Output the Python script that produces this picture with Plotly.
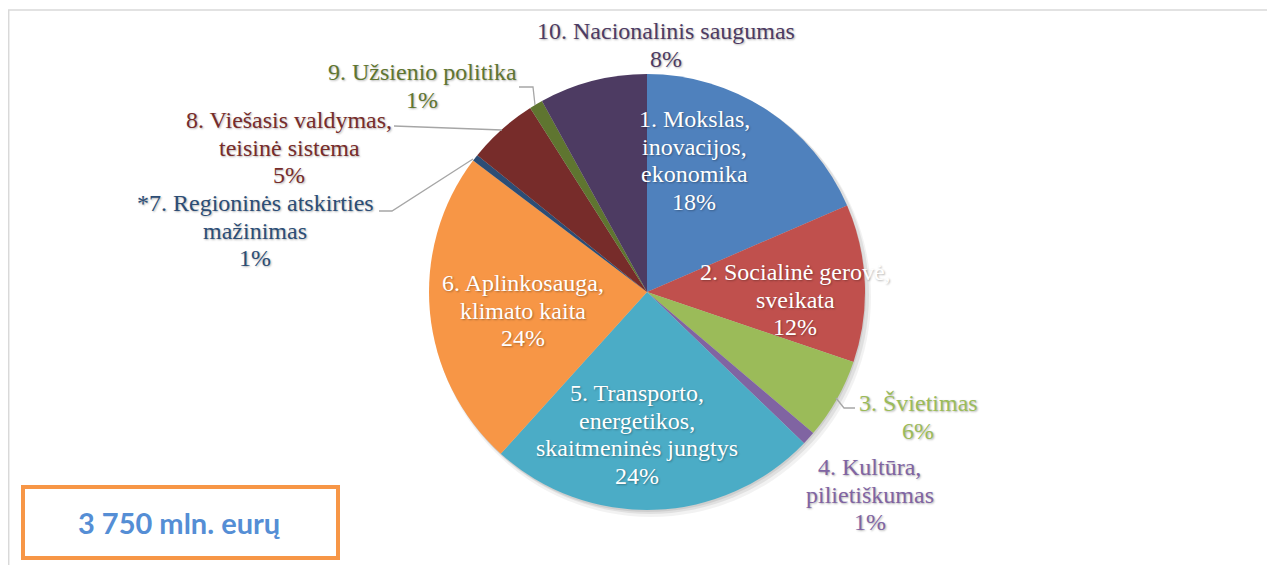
import plotly.graph_objects as go

W, H = 1275, 565
OFF = 8  # page body margin

# slices, clockwise from 12 o'clock
categories = ["1. Mokslas,<br>inovacijos,<br>ekonomika",
              "2. Socialinė gerovė,<br>sveikata",
              "3. Švietimas",
              "4. Kultūra,<br>pilietiškumas",
              "5. Transporto,<br>energetikos,<br>skaitmeninės jungtys",
              "6. Aplinkosauga,<br>klimato kaita",
              "*7. Regioninės atskirties<br>mažinimas",
              "8. Viešasis valdymas,<br>teisinė sistema",
              "9. Užsienio politika",
              "10. Nacionalinis saugumas"]
shares = [18.5, 11.7, 6.0, 1.0, 24.5, 23.6, 0.5, 5.2, 1.0, 8.0]
pct_labels = ["18%", "12%", "6%", "1%", "24%", "24%", "1%", "5%", "1%", "8%"]
total_label = "3 750 mln. eurų"

slice_colors = ["#4F81BD", "#C0504D", "#9BBB59", "#8064A2", "#4BACC6",
                "#F79646", "#2C4D75", "#772C2A", "#5F7530", "#4D3B62"]
text_colors = ["white", "white", "#9BBB59", "#8064A2", "white",
               "white", "#2C4D75", "#772C2A", "#5F7530", "#4D3B62"]
# label centre x and first line y, in screen pixels
label_pos = [(694, 119), (795, 272), (918, 403), (870, 467), (637, 393),
             (523, 283), (255, 203), (289, 120), (422, 72), (666, 31)]
LINE = 27.6
# leader lines in screen pixels
leaders = [[(836, 398), (844, 408), (855, 408)],
           [(473, 159), (392, 211), (379, 211)],
           [(502, 130), (394, 126)],
           [(535, 105), (533, 87), (519, 87)]]


def px(x, y):
    return (x - OFF) / W, 1 - (y - OFF) / H


cx, cy, r = 647, 292, 218
x0, y1 = px(cx - r, cy - r)
x1, y0 = px(cx + r, cy + r)
fig = go.Figure(go.Pie(
    labels=categories, values=shares, sort=False, direction="clockwise",
    rotation=0, marker=dict(colors=slice_colors, line=dict(width=0)),
    textinfo="none", hoverinfo="label+percent", showlegend=False,
    domain=dict(x=[x0, x1], y=[y0, y1])))

# soft shadow behind the pie
for dx, dy, grow, a in [(4, 5, 2, 0.05), (3, 3, 1, 0.07), (1, 2, 0, 0.08)]:
    sx0, sy1 = px(cx - r - grow + dx, cy - r - grow + dy)
    sx1, sy0 = px(cx + r + grow + dx, cy + r + grow + dy)
    fig.add_shape(type="circle", xref="paper", yref="paper",
                  x0=sx0, x1=sx1, y0=sy0, y1=sy1, layer="below",
                  fillcolor=f"rgba(0,0,0,{a})", line=dict(width=0))

for lab, pct, col, (x, y) in zip(categories, pct_labels, text_colors, label_pos):
    lines = lab.split("<br>") + [pct]
    for i, line in enumerate(lines):
        ax, ay = px(x, y + i * LINE)
        fig.add_annotation(x=ax, y=ay, xref="paper", yref="paper",
                           showarrow=False, text=line,
                           xanchor="center", yanchor="middle",
                           font=dict(family="Liberation Serif", size=24,
                                     color=col,
                                     shadow="1px 1px 2px rgba(0,0,0,0.3)"))

for pts in leaders:
    path = "M " + " L ".join(f"{px(x, y)[0]} {px(x, y)[1]}" for x, y in pts)
    fig.add_shape(type="path", path=path, xref="paper", yref="paper",
                  line=dict(color="#A6A6A6", width=1.3))

# outer frame (top and left edges visible)
fx0, fy1 = px(8.7, 10)
fig.add_shape(type="rect", xref="paper", yref="paper",
              x0=fx0, x1=1.01, y0=-0.05, y1=fy1,
              line=dict(color="#D9D9D9", width=1.5), layer="below")

# total box
bx0, by1 = px(23, 487)
bx1, by0 = px(338, 558)
fig.add_shape(type="rect", xref="paper", yref="paper",
              x0=bx0, x1=bx1, y0=by0, y1=by1,
              line=dict(color="#F79646", width=4), fillcolor="white")
tx, ty = px(180, 522)
fig.add_annotation(x=tx, y=ty, xref="paper", yref="paper",
                   showarrow=False, text="<b>" + total_label + "</b>",
                   xanchor="center", yanchor="middle",
                   font=dict(family="Lato", size=29, color="#558ED5"))

fig.update_layout(width=W, height=H, margin=dict(l=0, r=0, t=0, b=0),
                  paper_bgcolor="white", plot_bgcolor="white")
fig.write_html("out.html")
